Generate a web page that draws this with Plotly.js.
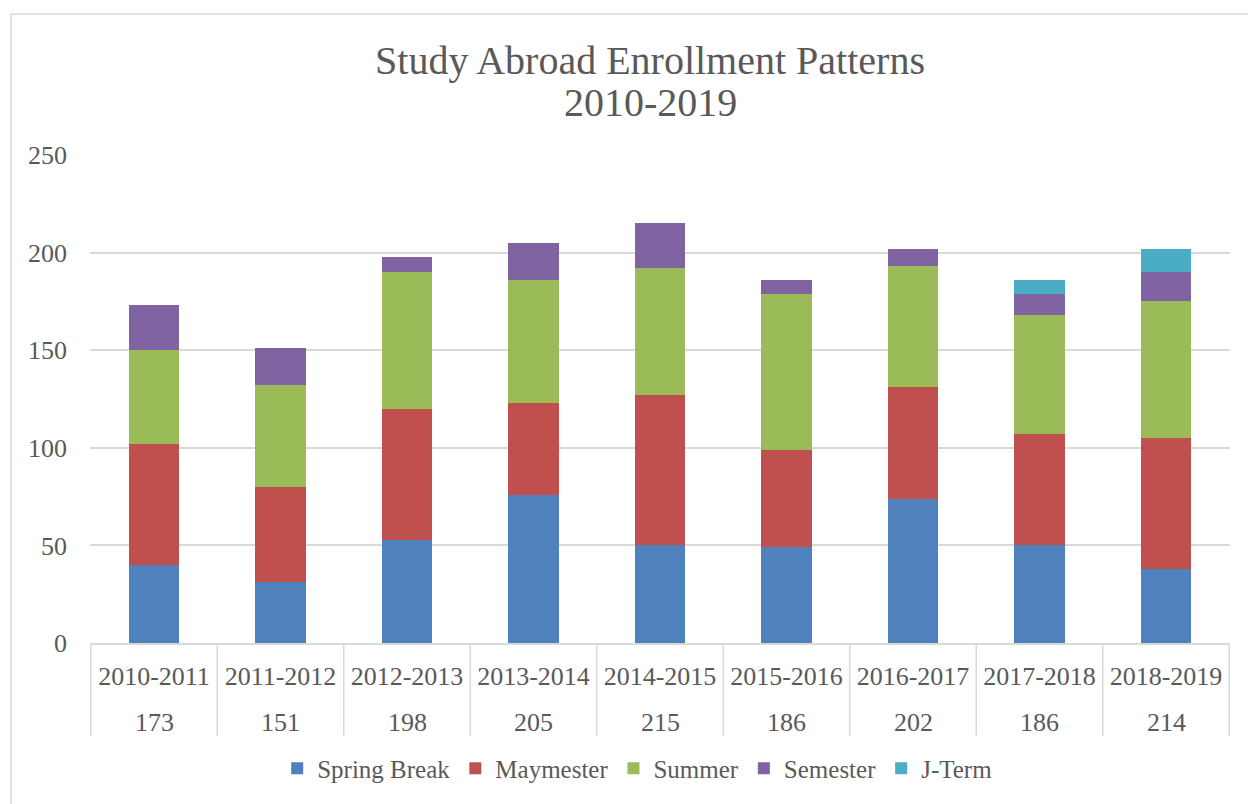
<!DOCTYPE html>
<html>
<head>
<meta charset="utf-8">
<script src="https://cdn.plot.ly/plotly-3.0.1.min.js"></script>
<style>
html,body{margin:0;padding:0;background:#fff;}
#chart{width:1248px;height:804px;}
</style>
</head>
<body>
<div id="chart"></div>
<script>
const years = ["2010-2011","2011-2012","2012-2013","2013-2014","2014-2015","2015-2016","2016-2017","2017-2018","2018-2019"];
const totals = ["173","151","198","205","215","186","202","186","214"];
const springBreak = [40, 31, 53, 76, 50, 49, 74, 50, 38];
const maymester   = [62, 49, 67, 47, 77, 50, 57, 57, 67];
const summer      = [48, 52, 70, 63, 65, 80, 62, 61, 70];
const semester    = [23, 19,  8, 19, 23,  7,  9, 11, 15];
const jTerm       = [ 0,  0,  0,  0,  0,  0,  0,  7, 12];
const seriesNames = ["Spring Break","Maymester","Summer","Semester","J-Term"];
const colors = ["#4F81BD","#C0504D","#9BBB59","#8064A2","#4BACC6"];
const titleLine1 = "Study Abroad Enrollment Patterns";
const titleLine2 = "2010-2019";

const FONT = "Liberation Serif, Times New Roman, serif";
const TXT = "#595959";
const GRID = "#d9d9d9";

const allSeries = [springBreak, maymester, summer, semester, jTerm];
const traces = allSeries.map((vals, i) => ({
  type: "bar",
  name: seriesNames[i],
  x: years,
  y: vals,
  width: 0.4,
  marker: {color: colors[i], line: {width: 0}},
  hoverinfo: "x+y+name"
}));

const shapes = [];
for (let k = 0; k <= years.length; k++) {
  shapes.push({type: "line", xref: "x", yref: "paper", x0: k - 0.5, x1: k - 0.5, y0: 0, y1: -0.19,
    line: {color: GRID, width: 1.5}});
}
// chart border (left and top)
shapes.push({type: "line", xref: "paper", yref: "paper", x0: -0.0693, x1: -0.0693, y0: 1.289, y1: -0.33, line: {color: GRID, width: 1.5}});
shapes.push({type: "line", xref: "paper", yref: "paper", x0: -0.0693, x1: 1.02, y0: 1.289, y1: 1.289, line: {color: GRID, width: 1.5}});

const annotations = years.map((yr, i) => ({
  xref: "x", yref: "paper", x: yr, y: -0.162, text: totals[i], showarrow: false,
  font: {family: FONT, size: 26, color: TXT}, yanchor: "middle"
}));
annotations.push({xref: "paper", yref: "paper", x: (650 - 90) / 1140, y: (646 - 102) / 491, xanchor: "center", yanchor: "middle",
  text: titleLine2, showarrow: false, font: {family: FONT, size: 40, color: TXT}});

const layout = {
  width: 1248, height: 804,
  margin: {l: 90, r: 18, t: 155, b: 158},
  paper_bgcolor: "#fff", plot_bgcolor: "#fff",
  barmode: "stack",
  bargap: 0.6,
  title: {text: titleLine1, x: 650 / 1248, xanchor: "center", xref: "container",
    y: 1 - 60 / 804, yanchor: "middle", yref: "container", font: {family: FONT, size: 40, color: TXT}},
  xaxis: {type: "category", showgrid: false, showline: true, linecolor: GRID, linewidth: 1.5,
    ticks: "", ticklabelstandoff: 9, tickfont: {family: FONT, size: 26, color: TXT}, fixedrange: true},
  yaxis: {range: [0, 250], tickvals: [0, 50, 100, 150, 200, 250], showgrid: true, gridcolor: GRID, gridwidth: 1.5,
    zeroline: false, showline: false, ticks: "", ticklabelstandoff: 22,
    tickfont: {family: FONT, size: 26, color: TXT}, fixedrange: true},
  legend: {orientation: "h", x: 0.48, xanchor: "center", y: -0.257, yanchor: "middle",
    font: {family: FONT, size: 25, color: TXT}, traceorder: "normal", itemclick: false},
  shapes: shapes,
  annotations: annotations,
  showlegend: true
};

Plotly.newPlot("chart", traces, layout, {displayModeBar: false});
</script>
</body>
</html>
